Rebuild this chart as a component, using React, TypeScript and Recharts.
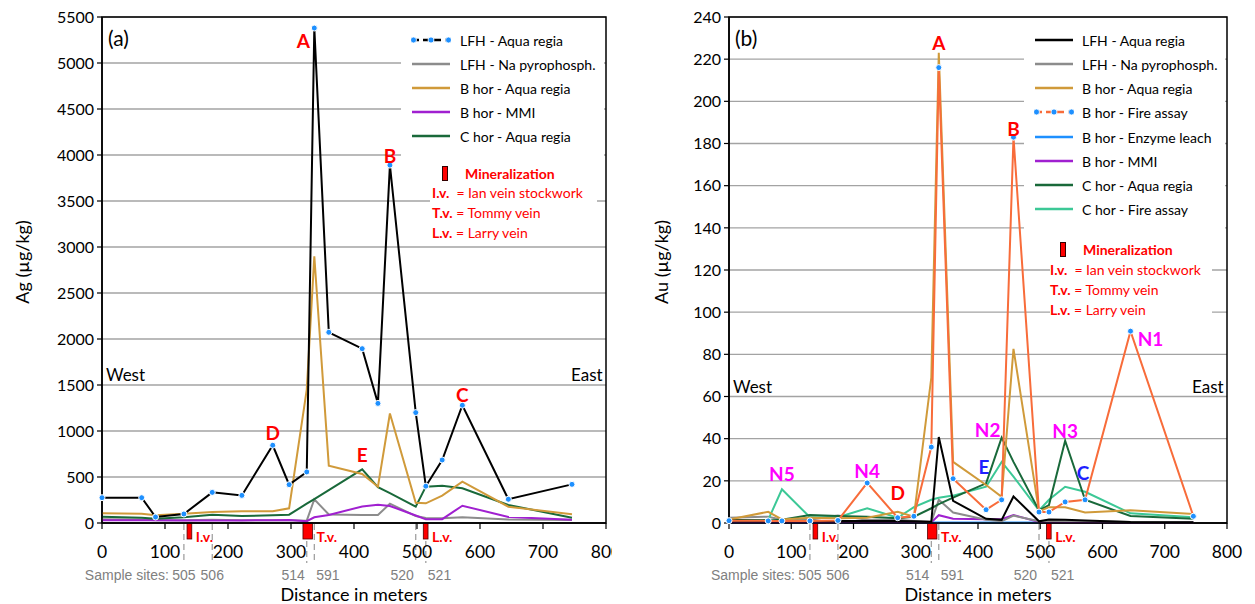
import React from "react"
import {
  CartesianGrid,
  Line,
  LineChart,
  ReferenceArea,
  ReferenceDot,
  ReferenceLine,
  XAxis,
  YAxis,
} from "recharts"

// sample positions along the traverse (m), shared by both panels
const distances = [0, 63, 85, 130, 175, 222, 271, 297, 325, 337, 360, 413, 438, 457, 498, 514, 540, 572, 645, 746]
const distanceTicks = [0, 100, 200, 300, 400, 500, 600, 700, 800]

// (a) Ag, µg/kg
const agTicks = [0, 500, 1000, 1500, 2000, 2500, 3000, 3500, 4000, 4500, 5000, 5500]
const agLfhAqua = [275, 275, 65, 98, 333, 300, 845, 417, 555, 5380, 2073, 1895, 1300, 3890, 1200, 400, 685, 1280, 258, 420]
const agLfhNaPyro = [40, 38, 30, 30, 35, 30, 30, 30, 25, 258, 92, 86, 86, 210, 75, 55, 52, 62, 38, 33]
const agBAqua = [105, 100, 84, 101, 120, 127, 128, 160, 1450, 2900, 623, 533, 395, 1190, 220, 214, 297, 449, 177, 94]
const agBMmi = [30, 30, 30, 28, 28, 28, 30, 33, 20, 62, 87, 180, 197, 185, 82, 40, 42, 188, 65, 35]
const agCAqua = [69, 58, 47, 62, 90, 76, 83, 90, 210, 260, 358, 583, 390, 325, 177, 395, 405, 377, 196, 58]

// (b) Au, µg/kg
const auTicks = [0, 20, 40, 60, 80, 100, 120, 140, 160, 180, 200, 220, 240]
const auLfhAqua = [1.1, 1, 1, 1, 1, 1, 1, 0.8, 0.6, 40.8, 10.5, 2, 1.5, 12.6, 0.8, 1.7, 1.5, 1.2, 0.5, 0.3]
const auLfhNaPyro = [2.5, 3, 1.5, 1.5, 3.5, 1.5, 1.5, 1, 0.5, 11, 5, 1.5, 0.8, 3.5, 0.8, 1, 1, 1, 0.5, 0.3]
const auBAqua = [1.7, 5.3, 1.7, 2.5, 2.2, 2.5, 5.3, 3, 69, 223, 29, 18, 12.4, 82.6, 5.5, 7.5, 7.5, 5, 6, 4.3]
const auBFire = [1.1, 1, 1, 1, 1.2, 19, 2.5, 3.2, 36, 216, 21, 6.3, 11, 183, 5.2, 5.2, 10, 11, 91, 3.2]
const auBEnzyme = [0.2, 0.2, 0.2, 0.2, 0.2, 0.2, 0.2, 0.2, 0.2, 0.2, 0.2, 0.2, 0.2, 0.2, 0.2, null, null, null, null, null]
const auBMmi = [0.3, 0.3, 0.3, 0.3, 0.3, 0.3, 0.3, 0.3, 0.3, 3.7, 2, 1.8, 1.8, 3.8, 0.5, 0.3, 0.3, 0.3, 0.2, 0.2]
const auCAqua = [1.5, 1.2, 1.5, 3.8, 3.3, 3, 2.2, 3, 7, 9, 12, 18.8, 40.5, 29, 6, 8.5, 39, 11, 3.3, 2]
const auCFire = [1, 1.5, 16, 2.7, 2.7, 7, 2.5, 7.5, 11, 12, 13, 17.2, 29, 22, 6, 11, 17.2, 14.8, 4.6, 2.7]

const sampleSites = [
  { id: "505", d: 130, anchor: "middle" },
  { id: "506", d: 175, anchor: "middle" },
  { id: "514", d: 325, anchor: "end" },
  { id: "591", d: 337, anchor: "start" },
  { id: "520", d: 498, anchor: "end" },
  { id: "521", d: 514, anchor: "start" },
]

const veins = [
  { label: "I.v.", from: 135, to: 142.5 },
  { label: "T.v.", from: 319, to: 334 },
  { label: "L.v.", from: 510, to: 517.5 },
]

const BLACK = "#000000"
const GRAY = "#8c8c8c"
const GOLD = "#d09a3a"
const PURPLE = "#a020d0"
const DKGREEN = "#19693a"
const ORANGE = "#f86c3a"
const SKY = "#1e90ff"
const TEAL = "#3cc896"
const RED = "#ff0000"
const MAGENTA = "#ff00ff"
const BLUE = "#1f1fff"

const FONT = "Lato, 'Open Sans', sans-serif"
const NARROW = "'Liberation Sans Narrow', 'Liberation Sans', Arial, sans-serif"

type Series = { key: string; name: string; values: (number | null)[]; color: string; dots?: boolean }
type Peak = { text: string; at: number; values: (number | null)[]; dx: number; dy: number; color: string }

const agSeries: Series[] = [
  { key: "lfhNa", name: "LFH - Na pyrophosph.", values: agLfhNaPyro, color: GRAY },
  { key: "bMmi", name: "B hor - MMI", values: agBMmi, color: PURPLE },
  { key: "cAqua", name: "C hor - Aqua regia", values: agCAqua, color: DKGREEN },
  { key: "bAqua", name: "B hor - Aqua regia", values: agBAqua, color: GOLD },
  { key: "lfhAqua", name: "LFH - Aqua regia", values: agLfhAqua, color: BLACK, dots: true },
]

const auSeries: Series[] = [
  { key: "bEnz", name: "B hor - Enzyme leach", values: auBEnzyme, color: SKY },
  { key: "bMmi", name: "B hor - MMI", values: auBMmi, color: PURPLE },
  { key: "lfhNa", name: "LFH - Na pyrophosph.", values: auLfhNaPyro, color: GRAY },
  { key: "cFire", name: "C hor - Fire assay", values: auCFire, color: TEAL },
  { key: "cAqua", name: "C hor - Aqua regia", values: auCAqua, color: DKGREEN },
  { key: "bAqua", name: "B hor - Aqua regia", values: auBAqua, color: GOLD },
  { key: "lfhAqua", name: "LFH - Aqua regia", values: auLfhAqua, color: BLACK },
  { key: "bFire", name: "B hor - Fire assay", values: auBFire, color: ORANGE, dots: true },
]

const agPeaks: Peak[] = [
  { text: "A", at: 9, values: agLfhAqua, dx: -11, dy: 12, color: RED },
  { text: "B", at: 13, values: agLfhAqua, dx: 0, dy: -10, color: RED },
  { text: "C", at: 17, values: agLfhAqua, dx: 0, dy: -11, color: RED },
  { text: "D", at: 6, values: agLfhAqua, dx: 0, dy: -13, color: RED },
  { text: "E", at: 11, values: agCAqua, dx: 0, dy: -15, color: RED },
]

const auPeaks: Peak[] = [
  { text: "A", at: 9, values: auBFire, dx: 0, dy: -25, color: RED },
  { text: "B", at: 13, values: auBFire, dx: 0, dy: -9, color: RED },
  { text: "D", at: 6, values: auBFire, dx: 0, dy: -25, color: RED },
  { text: "N1", at: 18, values: auBFire, dx: 20, dy: 7, color: MAGENTA },
  { text: "N2", at: 12, values: auCAqua, dx: -14, dy: -8, color: MAGENTA },
  { text: "N3", at: 16, values: auCAqua, dx: 0, dy: -10, color: MAGENTA },
  { text: "N4", at: 5, values: auBFire, dx: 0, dy: -12, color: MAGENTA },
  { text: "N5", at: 2, values: auCFire, dx: 0, dy: -16, color: MAGENTA },
  { text: "E", at: 11, values: auCFire, dx: -2, dy: -20, color: BLUE },
  { text: "C", at: 17, values: auBFire, dx: -2, dy: -27, color: BLUE },
]

const siteShape = (s: (typeof sampleSites)[number], first: boolean) => (p: any) => {
  const x = p.x1
  const bottom = Math.max(p.y1, p.y2)
  // dashes start below a vein marker when the site sits inside one
  const covered = veins.some((v) => s.d >= v.from && s.d <= v.to)
  const tx = s.anchor === "middle" ? x : s.anchor === "end" ? x - 2 : x + 2
  return (
    <g>
      <line
        x1={x}
        x2={x}
        y1={bottom + (covered ? 18 : 1)}
        y2={bottom + 40}
        stroke="#9a9a9a"
        strokeWidth={1.2}
        strokeDasharray="6 4"
      />
      <text x={tx} y={bottom + 57} textAnchor={s.anchor} fill="#808080" fontSize={14} fontFamily={NARROW}>
        {s.id}
      </text>
      {first && (
        <text x={x - 15} y={bottom + 57} textAnchor="end" fill="#808080" fontSize={14} fontFamily={NARROW}>
          Sample sites:
        </text>
      )}
    </g>
  )
}

const veinShape = (v: (typeof veins)[number]) => (p: any) => {
  const bottom = p.y + p.height
  return (
    <g>
      <rect x={p.x} y={bottom} width={p.width} height={16} fill={RED} stroke="#500" strokeWidth={0.8} />
      <text x={p.x + p.width + 4} y={bottom + 18.5} fill={RED} fontWeight={700} fontSize={14}>
        {v.label}
      </text>
    </g>
  )
}

const peakShape = (pk: Peak) => (p: any) => (
  <text
    x={p.cx + pk.dx}
    y={p.cy + pk.dy}
    textAnchor="middle"
    dominantBaseline="central"
    fill={pk.color}
    fontWeight={700}
    fontSize={19}
  >
    {pk.text}
  </text>
)

function Panel({
  width,
  yAxisWidth,
  rightMargin,
  yTicks,
  series,
  peaks,
}: {
  width: number
  yAxisWidth: number
  rightMargin: number
  yTicks: number[]
  series: Series[]
  peaks: Peak[]
}) {
  const rows = distances.map((d, i) => {
    const r: Record<string, number | null> = { d }
    series.forEach((s) => (r[s.key] = s.values[i]))
    return r
  })
  const yMax = yTicks[yTicks.length - 1]
  return (
    <LineChart width={width} height={604} data={rows} margin={{ top: 17, right: rightMargin, left: 0, bottom: 0 }}>
      <CartesianGrid vertical={false} stroke="#a3a3a3" strokeWidth={1.4} />
      <XAxis
        dataKey="d"
        type="number"
        domain={[0, 800]}
        ticks={distanceTicks}
        interval={0}
        height={81}
        tickSize={6}
        tickMargin={17}
        tick={{ fill: "#000", fontSize: 17.5 }}
        axisLine={{ stroke: "#000", strokeWidth: 1.5 }}
        tickLine={{ stroke: "#000", strokeWidth: 1.2 }}
        label={{ value: "Distance in meters", position: "insideBottom", offset: 3, fill: "#000", fontSize: 18 }}
      />
      <YAxis
        type="number"
        domain={[0, yMax]}
        ticks={yTicks}
        interval={0}
        width={yAxisWidth}
        tickSize={5}
        tickMargin={3}
        tick={{ fill: "#000", fontSize: 16 }}
        axisLine={{ stroke: "#000", strokeWidth: 1.5 }}
        tickLine={{ stroke: "#000", strokeWidth: 1.2 }}
      />
      {sampleSites.map((s, i) => (
        <ReferenceLine key={s.id} x={s.d} shape={siteShape(s, i === 0)} />
      ))}
      {veins.map((v) => (
        <ReferenceArea key={v.label} x1={v.from} x2={v.to} shape={veinShape(v)} />
      ))}
      {series.map((s) => (
        <Line
          key={s.key}
          type="linear"
          dataKey={s.key}
          name={s.name}
          stroke={s.color}
          strokeWidth={2}
          dot={s.dots ? { r: 3, fill: SKY, stroke: "#fff", strokeWidth: 1 } : false}
          activeDot={false}
          isAnimationActive={false}
        />
      ))}
      <ReferenceArea x1={0} x2={800} y1={0} y2={yMax} fill="none" stroke="#000" strokeWidth={1.5} />
      {peaks.map((pk) => (
        <ReferenceDot
          key={pk.text + pk.at}
          x={distances[pk.at]}
          y={pk.values[pk.at] as number}
          r={1}
          shape={peakShape(pk)}
        />
      ))}
    </LineChart>
  )
}

function LegendSample({ color, dots }: { color: string; dots?: boolean }) {
  return (
    <svg width={40} height={10} style={{ display: "block" }}>
      <line x1={1} x2={39} y1={5} y2={5} stroke={color} strokeWidth={2.6} strokeDasharray={dots ? "7 4" : undefined} />
      {dots &&
        [2.5, 20, 37.5].map((cx) => <circle key={cx} cx={cx} cy={5} r={3} fill={SKY} stroke="#fff" strokeWidth={0.8} />)}
    </svg>
  )
}

function LegendBlock({
  box,
  lineX,
  textX,
  y0,
  step,
  items,
}: {
  box: [number, number, number, number]
  lineX: number
  textX: number
  y0: number
  step: number
  items: { name: string; color: string; dots?: boolean }[]
}) {
  return (
    <>
      <div style={{ position: "absolute", left: box[0], top: box[1], width: box[2], height: box[3], background: "#fff" }} />
      {items.map((it, i) => (
        <React.Fragment key={it.name}>
          <div style={{ position: "absolute", left: lineX, top: y0 + i * step - 5 }}>
            <LegendSample color={it.color} dots={it.dots} />
          </div>
          <div
            style={{
              position: "absolute",
              left: textX,
              top: y0 + i * step,
              transform: "translateY(-50%)",
              fontSize: 14,
              whiteSpace: "nowrap",
              color: "#000",
            }}
          >
            {it.name}
          </div>
        </React.Fragment>
      ))}
    </>
  )
}

function Mineralization({
  box,
  rectX,
  rectY,
  titleX,
  textX,
  y0,
}: {
  box: [number, number, number, number]
  rectX: number
  rectY: number
  titleX: number
  textX: number
  y0: number
}) {
  const lines = [
    ["I.v.", "  = Ian vein stockwork"],
    ["T.v.", " = Tommy vein"],
    ["L.v.", " = Larry vein"],
  ]
  return (
    <>
      <div style={{ position: "absolute", left: box[0], top: box[1], width: box[2], height: box[3], background: "#fff" }} />
      <div
        style={{
          position: "absolute",
          left: rectX,
          top: rectY,
          width: 4,
          height: 13,
          background: RED,
          border: "0.8px solid #300",
        }}
      />
      <div
        style={{
          position: "absolute",
          left: titleX,
          top: rectY + 7,
          transform: "translateY(-50%)",
          fontSize: 14,
          fontWeight: 700,
          color: RED,
          whiteSpace: "nowrap",
        }}
      >
        Mineralization
      </div>
      {lines.map((l, i) => (
        <div
          key={l[0]}
          style={{
            position: "absolute",
            left: textX,
            top: y0 + i * 20,
            transform: "translateY(-50%)",
            fontSize: 14,
            color: RED,
            whiteSpace: "pre",
          }}
        >
          <b>{l[0]}</b>
          {l[1]}
        </div>
      ))}
    </>
  )
}

const text = (left: number, top: number, size: number, content: string, extra: React.CSSProperties = {}) => (
  <div
    style={{
      position: "absolute",
      left,
      top,
      transform: "translateY(-50%)",
      fontSize: size,
      whiteSpace: "nowrap",
      color: "#000",
      ...extra,
    }}
  >
    {content}
  </div>
)

export default function App() {
  return (
    <div
      style={{
        position: "fixed",
        left: 0,
        top: 0,
        width: 1255,
        height: 604,
        background: "#fff",
        fontFamily: FONT,
        overflow: "hidden",
      }}
    >
      <div style={{ position: "absolute", left: 0, top: 0 }}>
        <Panel width={612} yAxisWidth={102} rightMargin={6} yTicks={agTicks} series={agSeries} peaks={agPeaks} />
      </div>
      <div style={{ position: "absolute", left: 612, top: 0 }}>
        <Panel width={643} yAxisWidth={117} rightMargin={28} yTicks={auTicks} series={auSeries} peaks={auPeaks} />
      </div>

      {/* panel (a) decorations */}
      <LegendBlock
        box={[401, 20, 203, 140]}
        lineX={411}
        textX={460}
        y0={40}
        step={24}
        items={[
          { name: "LFH - Aqua regia", color: BLACK, dots: true },
          { name: "LFH - Na pyrophosph.", color: GRAY },
          { name: "B hor - Aqua regia", color: GOLD },
          { name: "B hor - MMI", color: PURPLE },
          { name: "C hor - Aqua regia", color: DKGREEN },
        ]}
      />
      <Mineralization box={[430, 160, 167, 82]} rectX={442} rectY={166} titleX={465} textX={432} y0={192} />
      {text(108, 37, 21, "(a)")}
      {text(106, 374, 17, "West")}
      {text(571, 374, 17, "East")}
      <div
        style={{
          position: "absolute",
          left: 22,
          top: 262,
          transform: "translate(-50%, -50%) rotate(-90deg)",
          fontSize: 18,
          whiteSpace: "nowrap",
        }}
      >
        Ag (µg/kg)
      </div>

      {/* panel (b) decorations */}
      <LegendBlock
        box={[1024, 20, 201, 212]}
        lineX={1034}
        textX={1082}
        y0={40}
        step={24.14}
        items={[
          { name: "LFH - Aqua regia", color: BLACK },
          { name: "LFH - Na pyrophosph.", color: GRAY },
          { name: "B hor - Aqua regia", color: GOLD },
          { name: "B hor - Fire assay", color: ORANGE, dots: true },
          { name: "B hor - Enzyme leach", color: SKY },
          { name: "B hor - MMI", color: PURPLE },
          { name: "C hor - Aqua regia", color: DKGREEN },
          { name: "C hor - Fire assay", color: TEAL },
        ]}
      />
      <Mineralization box={[1050, 236, 162, 84]} rectX={1060} rectY={242} titleX={1083} textX={1050} y0={269} />
      {text(735, 37, 21, "(b)")}
      {text(733, 386, 17, "West")}
      {text(1192, 386, 17, "East")}
      <div
        style={{
          position: "absolute",
          left: 661,
          top: 262,
          transform: "translate(-50%, -50%) rotate(-90deg)",
          fontSize: 18,
          whiteSpace: "nowrap",
        }}
      >
        Au (µg/kg)
      </div>
    </div>
  )
}
